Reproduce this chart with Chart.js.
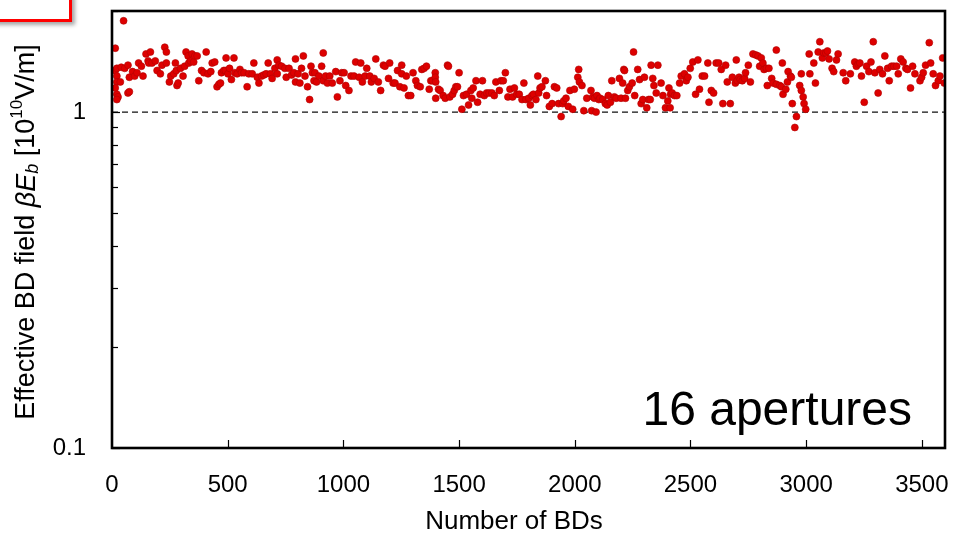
<!DOCTYPE html>
<html>
<head>
<meta charset="utf-8">
<script src="https://cdn.jsdelivr.net/npm/chart.js@4/dist/chart.umd.min.js"></script>
<style>
  html, body { margin: 0; padding: 0; background: #fff; }
  #wrap { position: relative; width: 953px; height: 535px; overflow: hidden; }
  #tag { position: absolute; left: -10px; top: -10px; width: 76px; height: 26px;
         border: 3px solid #ff0000; background: #fff; box-shadow: 3px 3px 4px rgba(0,0,0,0.35); }
  canvas { position: absolute; left: 0; top: 0; }
</style>
</head>
<body>
<div id="wrap">
  <canvas id="c" width="953" height="535"></canvas>
  <div id="tag"></div>
</div>
<script>
// ---- data ----
const bdCount = [
  50,14,14,21,21,21,36,14,21,26, 21,69,75,40,55,69,75,89,98,108,
  115,127,134,147,156,166,159,173,187,195, 209,216,228,235,235,248,254,267,274,278,
  281,286,296,307,314,320,329,332,339,346, 353,358,368,375,387,397,407,415,427,433,
  444,454,462,469,473,483,493,490,501,508, 516,527,531,541,553,560,571,584,591,
  606,613,628,635,646,656,666,675,685,692, 704,714,714,721,733,747,753,765,776,786,
  793,793,804,812,819,827,834,845,854,860, 866,873,877,884,894,906,913,913,923,931,
  941,952,967,974,985,993,1003,1010,1024,1033, 1046,1053,1068,1075,1082,1094,1101,1114,1121,1133,
  1140,1151,1161,1173,1180,1195,1200,
  1215,1223,1234,1244,1252,1252,1262,1272,1281,1291, 1301,1313,1320,1332,1339,1349,1359,1371,1378,1385,
  1397,1397,1399,1399,1411,1418,1431,1440,1450,1454, 1460,1472,1479,1486,1493,1500,1512,1519,1532,1541,
  1551,1555,1561,1573,1580,1591,1601,1609,1619,1630, 1642,1652,1659,1674,1681,1691,1700,1711,1720,1731,
  1739,1749,1760,1772,1780,1789,1801,1808,
  1815,1821,1832,1840,1844,1850,1858,1873,1878,1890, 1902,1912,1922,1930,1941,1948,1952,1962,1972,1979,
  1991,1998,2013,2017,2020,2031,2039,2052,2070,2073, 2078,2085,2092,2096,2104,2109,2121,2132,2140,2145,
  2154,2160,2171,2179,2193,2200,2207,2212,2215,2219, 2229,2236,2248,2254,2259,2272,2280,2287,2294,2301,
  2311,2319,2326,2330,2337,2342,2352,2359,2373,2381, 2392,2402,2407,2412,2414,
  2421,2431,2441,2453,2460,2474,2482,2489,2499,2510, 2522,2532,2539,2551,2561,2575,2580,2590,2600,2611,
  2622,2633,2640,2652,2659,2672,2681,2694,2698,2702, 2710,2715,2724,2734,2738,2750,2759,2770,2782,2792,
  2799,2806,2813,2818,2828,2832,2839,2851,2857,2871, 2871,2886,2893,2897,2900,2912,2919,2922,2932,2936,
  2940,2951,2958,2972,2979,2979,2987,2991,2998,3013, 3016,
  3033,3040,3052,3059,3070,3076,3085,3092,3099,3112, 3119,3131,3138,3160,3171,3191,3210,3217,3225,3232,
  3239,3251,3261,3271,3280,3290,3297,3311,3318,3330, 3340,3352,3359,3369,3379,3391,3398,3409,3419,3431,
  3438,3451,3460,3470,3492,3499,3506,3516,3532,3538, 3549,3559,3571,3578,3590,3597
];
const effectiveField = [
  1.87,1.55,1.33,1.35,1.28,1.23,1.23,1.18,1.13,1.11, 1.09,1.14,1.15,1.36,1.35,1.38,1.27,1.32,1.28,1.31,
  1.40,1.37,1.28,1.49,1.42,1.51,1.40,1.40,1.42,1.33, 1.30,1.38,1.56,1.51,1.40,1.23,1.28,1.30,1.40,1.33,
  1.20,1.22,1.35,1.28,1.37,1.51,1.47,1.40,1.42,1.49, 1.41,1.47,1.47,1.24,1.33,1.31,1.51,1.30,1.32,1.40,
  1.41,1.19,1.21,1.22,1.31,1.33,1.45,1.33,1.30,1.35, 1.25,1.45,1.31,1.30,1.34,1.31,1.31,1.19,1.30,
  1.30,1.40,1.27,1.22,1.28,1.29,1.30,1.40,1.30,1.26, 1.35,1.43,1.30,1.38,1.37,1.35,1.27,1.35,1.29,1.31,
  1.44,1.23,1.30,1.22,1.35,1.47,1.28,1.19,1.09,1.37, 1.31,1.24,1.31,1.23,1.28,1.37,1.50,1.24,1.28,1.22,
  1.28,1.22,1.32,1.11,1.24,1.31,1.31,1.20,1.16,1.28, 1.28,1.41,1.27,1.40,1.23,1.28,1.35,1.28,1.23,1.26,
  1.44,1.23,1.16,1.38,1.37,1.26,1.40,
  1.22,1.22,1.33,1.19,1.30,1.38,1.18,1.28,1.12,1.12, 1.31,1.24,1.20,1.19,1.34,1.35,1.37,1.17,1.24,1.24,
  1.31,1.27,1.23,1.10,1.17,1.16,1.12,1.10,1.38,1.37, 1.11,1.13,1.16,1.19,1.19,1.31,1.02,1.12,1.13,1.05,
  1.16,1.10,1.18,1.24,1.07,1.13,1.24,1.12,1.14,1.14, 1.14,1.12,1.23,1.16,1.24,1.24,1.31,1.11,1.17,1.11,
  1.18,1.13,1.13,1.09,1.22,1.09,1.10,1.05,
  1.12,1.13,1.09,1.28,1.14,1.18,1.19,1.24,1.12,1.04, 1.06,1.19,1.18,1.06,0.97,1.06,1.08,1.10,1.04,1.16,
  1.02,1.17,1.27,1.34,1.23,1.20,1.01,1.10,1.16,1.01, 1.11,1.10,1.00,1.12,1.09,1.10,1.09,1.06,1.05,1.12,
  1.07,1.24,1.11,1.10,1.26,1.10,1.22,1.34,1.33,1.10, 1.16,1.19,1.22,1.51,1.12,1.34,1.25,1.06,1.09,1.27,
  1.03,1.09,1.09,1.38,1.26,1.20,1.14,1.38,1.22,1.12, 1.03,1.08,1.18,1.03,1.13,
  1.14,1.12,1.12,1.22,1.28,1.30,1.24,1.27,1.35,1.41, 1.13,1.43,1.17,1.28,1.28,1.40,1.07,1.16,1.14,1.40,
  1.40,1.34,1.06,1.38,1.23,1.06,1.27,1.22,1.43,1.24, 1.27,1.25,1.24,1.26,1.31,1.38,1.23,1.49,1.48,1.47,
  1.37,1.45,1.40,1.34,1.35,1.20,1.35,1.26,1.22,1.53, 1.21,1.20,1.19,1.40,1.13,1.17,1.23,1.32,1.28,1.27,
  1.06,0.90,0.97,1.20,1.30,1.16,1.11,1.06,1.02,1.49, 1.30,
  1.40,1.22,1.51,1.62,1.45,1.50,1.50,1.52,1.44,1.35, 1.32,1.43,1.49,1.31,1.24,1.30,1.41,1.37,1.39,1.40,
  1.28,1.07,1.37,1.32,1.41,1.62,1.31,1.14,1.34,1.30, 1.47,1.35,1.24,1.37,1.37,1.37,1.30,1.44,1.41,1.35,
  1.34,1.18,1.37,1.30,1.24,1.27,1.31,1.38,1.61,1.40, 1.30,1.20,1.24,1.28,1.45,1.22
];
const referenceLevel = 1;
const xRange = [0, 3600];
const yRange = [0.1, 2];
const xTickValues = [0, 500, 1000, 1500, 2000, 2500, 3000, 3500];
const yLabelValues = [0.1, 1];
const yMinorValues = [0.2, 0.3, 0.4, 0.5, 0.6, 0.7, 0.8, 0.9, 2];
const xTitle = 'Number of BDs';
const panelLabel = '16 apertures';

const FONT = "'Liberation Sans', Arial, Helvetica, sans-serif";
const points = bdCount.map((x, i) => ({ x: x, y: effectiveField[i] }));

function noPad(s) { s.paddingTop = 0; s.paddingBottom = 0; s.paddingLeft = 0; s.paddingRight = 0; }

const decor = {
  id: 'decor',
  afterDatasetsDraw(chart) {
    const ctx = chart.ctx, a = chart.chartArea;
    const xs = chart.scales.x, ys = chart.scales.y;
    ctx.save();
    ctx.strokeStyle = '#000';
    ctx.lineWidth = 1.2;
    xTickValues.forEach(v => {
      if (v <= xRange[0]) return;
      const px = Math.round(xs.getPixelForValue(v)) + 0.5;
      ctx.beginPath(); ctx.moveTo(px, a.bottom); ctx.lineTo(px, a.bottom - 8); ctx.stroke();
    });
    yMinorValues.forEach(v => {
      const py = Math.round(ys.getPixelForValue(v)) + 0.5;
      ctx.beginPath(); ctx.moveTo(a.left, py); ctx.lineTo(a.left + 6, py); ctx.stroke();
    });
    yLabelValues.forEach(v => {
      const py = Math.round(ys.getPixelForValue(v)) + 0.5;
      ctx.beginPath(); ctx.moveTo(a.left, py); ctx.lineTo(a.left + 8, py); ctx.stroke();
    });
    ctx.lineWidth = 2.6;
    ctx.strokeRect(a.left, a.top, a.right - a.left, a.bottom - a.top);
    ctx.fillStyle = '#000';
    ctx.font = '48px ' + FONT;
    ctx.textAlign = 'right';
    ctx.textBaseline = 'alphabetic';
    ctx.fillText(panelLabel, 912, 425);
    // x axis title
    ctx.font = '26px ' + FONT;
    ctx.textAlign = 'center';
    ctx.textBaseline = 'middle';
    ctx.fillText(xTitle, 514, 522);
    // y axis title (rich text)
    const size = 27;
    const segs = [
      { t: 'Effective BD field ', f: size + 'px ' + FONT, dy: 0 },
      { t: '\u03B2', f: 'italic ' + size + 'px ' + FONT, dy: 0 },
      { t: 'E', f: 'italic ' + size + 'px ' + FONT, dy: 0 },
      { t: 'b', f: 'italic ' + Math.round(size * 0.68) + 'px ' + FONT, dy: 6 },
      { t: ' [10', f: size + 'px ' + FONT, dy: 0 },
      { t: '10', f: Math.round(size * 0.62) + 'px ' + FONT, dy: -10 },
      { t: 'V/m]', f: size + 'px ' + FONT, dy: 0 }
    ];
    let total = 0;
    segs.forEach(s => { ctx.font = s.f; s.w = ctx.measureText(s.t).width; total += s.w; });
    ctx.translate(27, 232);
    ctx.rotate(-Math.PI / 2);
    ctx.textAlign = 'left';
    ctx.textBaseline = 'middle';
    let cx = -total / 2;
    segs.forEach(s => { ctx.font = s.f; ctx.fillText(s.t, cx, s.dy); cx += s.w; });
    ctx.restore();
  }
};

new Chart(document.getElementById('c'), {
  type: 'scatter',
  data: {
    datasets: [
      {
        data: points,
        backgroundColor: '#dd0000',
        borderColor: '#b00000',
        borderWidth: 0.6,
        pointRadius: 3.5,
        pointHoverRadius: 3.5
      },
      {
        type: 'line',
        data: [{ x: xRange[0], y: referenceLevel }, { x: xRange[1], y: referenceLevel }],
        borderColor: '#111',
        borderWidth: 1.4,
        borderDash: [6, 4],
        pointRadius: 0,
        fill: false
      }
    ]
  },
  options: {
    responsive: false,
    devicePixelRatio: 1,
    animation: false,
    events: [],
    layout: { padding: { left: 0, right: 8, top: 11, bottom: 0 } },
    plugins: { legend: { display: false }, tooltip: { enabled: false } },
    scales: {
      x: {
        type: 'linear',
        min: xRange[0], max: xRange[1],
        afterBuildTicks(s) { s.ticks = xTickValues.map(v => ({ value: v })); },
        afterFit(s) { s.height = 87; noPad(s); },
        grid: { display: false, drawTicks: false },
        border: { display: false },
        ticks: { padding: 23, color: '#000', font: { size: 24, family: FONT }, maxRotation: 0, autoSkip: false, callback: v => String(v) },
        title: { display: false }
      },
      y: {
        type: 'logarithmic',
        min: yRange[0], max: yRange[1],
        afterBuildTicks(s) { s.ticks = yLabelValues.map(v => ({ value: v })); },
        afterFit(s) { s.width = 112; noPad(s); },
        grid: { display: false, drawTicks: false },
        border: { display: false },
        ticks: { padding: 26, color: '#000', font: { size: 24, family: FONT }, callback: v => String(v) }
      }
    }
  },
  plugins: [decor]
});
</script>
</body>
</html>
